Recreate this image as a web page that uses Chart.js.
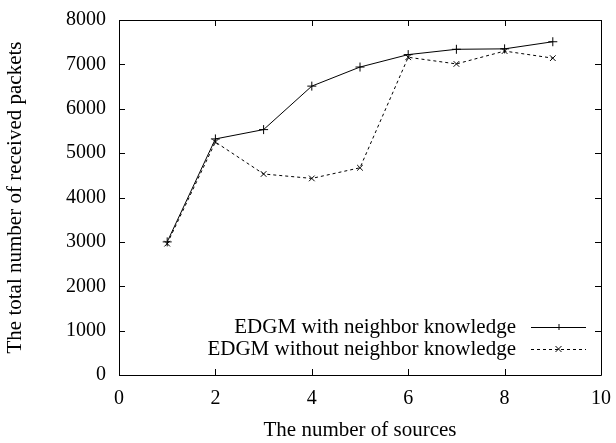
<!DOCTYPE html>
<html>
<head>
<meta charset="utf-8">
<script src="https://cdn.jsdelivr.net/npm/chart.js@4/dist/chart.umd.min.js"></script>
<style>
  html, body { margin: 0; padding: 0; background: #fff; }
  #wrap { width: 616px; height: 443px; }
</style>
</head>
<body>
<div id="wrap"><canvas id="c" width="616" height="443"></canvas></div>
<script>
// Number of sources (x) and total received packets for each EDGM variant
const sources = [1, 2, 3, 4, 5, 6, 7, 8, 9];
const withKnowledge = [3000, 5320, 5530, 6510, 6940, 7220, 7340, 7350, 7510];
const withoutKnowledge = [2960, 5250, 4530, 4430, 4670, 7160, 7010, 7300, 7140];
const seriesLabels = ['EDGM with neighbor knowledge', 'EDGM without neighbor knowledge'];
const xTicks = [0, 2, 4, 6, 8, 10];
const yTicks = [0, 1000, 2000, 3000, 4000, 5000, 6000, 7000, 8000];

const FONT = "'Liberation Serif', 'Times New Roman', serif";

function toPoints(xs, ys) {
  return xs.map((x, i) => ({ x: x, y: ys[i] }));
}

// Frame with inward tick marks on all four sides, plus an in-plot legend
const framePlugin = {
  id: 'frame',
  afterDraw(chart) {
    const ctx = chart.ctx;
    const a = chart.chartArea;
    const xs = chart.scales.x, ys = chart.scales.y;
    const tl = 6;
    ctx.save();
    ctx.strokeStyle = '#000';
    ctx.lineWidth = 1;
    ctx.beginPath();
    ctx.rect(Math.round(a.left) + 0.5, Math.round(a.top) + 0.5,
             Math.round(a.right - a.left), Math.round(a.bottom - a.top));
    ctx.stroke();
    ctx.beginPath();
    xTicks.forEach(v => {
      const px = Math.round(xs.getPixelForValue(v)) + 0.5;
      ctx.moveTo(px, a.bottom); ctx.lineTo(px, a.bottom - tl);
      ctx.moveTo(px, a.top); ctx.lineTo(px, a.top + tl);
    });
    yTicks.forEach(v => {
      const py = Math.round(ys.getPixelForValue(v)) + 0.5;
      ctx.moveTo(a.left, py); ctx.lineTo(a.left + tl, py);
      ctx.moveTo(a.right, py); ctx.lineTo(a.right - tl, py);
    });
    ctx.stroke();

    // legend: right-aligned text followed by a line sample with its marker
    ctx.font = '21px ' + FONT;
    ctx.textAlign = 'right';
    ctx.textBaseline = 'middle';
    const textRight = 516;
    const lineL = 531, lineR = 586;
    const rows = [327, 349];
    chart.data.datasets.forEach((ds, i) => {
      const y = rows[i];
      ctx.fillStyle = '#000';
      ctx.fillText(ds.label, textRight, y);
      ctx.beginPath();
      ctx.setLineDash(ds.borderDash || []);
      ctx.moveTo(lineL, y + 0.5); ctx.lineTo(lineR, y + 0.5);
      ctx.stroke();
      ctx.setLineDash([]);
      const cx = (lineL + lineR) / 2, r = 3;
      ctx.beginPath();
      if (ds.pointStyle === 'cross') {
        ctx.moveTo(cx - r, y + 0.5); ctx.lineTo(cx + r, y + 0.5);
        ctx.moveTo(cx + 0.5, y - r); ctx.lineTo(cx + 0.5, y + r);
      } else {
        ctx.moveTo(cx - r, y - r); ctx.lineTo(cx + r, y + r);
        ctx.moveTo(cx + r, y - r); ctx.lineTo(cx - r, y + r);
      }
      ctx.stroke();
    });
    ctx.restore();
  }
};

new Chart(document.getElementById('c'), {
  type: 'line',
  data: {
    datasets: [
      {
        label: seriesLabels[0],
        data: toPoints(sources, withKnowledge),
        borderColor: '#000',
        borderWidth: 1,
        pointStyle: 'cross',
        pointRadius: 4.5,
        pointBorderColor: '#000',
        pointBorderWidth: 1,
        fill: false,
        tension: 0
      },
      {
        label: seriesLabels[1],
        data: toPoints(sources, withoutKnowledge),
        borderColor: '#000',
        borderWidth: 1,
        borderDash: [3, 3],
        pointStyle: 'crossRot',
        pointRadius: 4,
        pointBorderColor: '#000',
        pointBorderWidth: 1,
        fill: false,
        tension: 0
      }
    ]
  },
  options: {
    responsive: false,
    animation: false,
    devicePixelRatio: 1,
    layout: { padding: { top: 20, right: 15, left: 0, bottom: 0 } },
    plugins: {
      legend: { display: false },
      tooltip: { enabled: false }
    },
    scales: {
      x: {
        type: 'linear',
        min: 0, max: 10,
        afterBuildTicks(scale) { scale.ticks = xTicks.map(v => ({ value: v })); },
        afterFit(scale) {
          scale.height = 68;
          scale.paddingLeft = 0;
          scale.paddingRight = 0;
        },
        grid: { display: false, drawTicks: false },
        border: { display: false },
        ticks: {
          color: '#000', font: { family: FONT, size: 20 }, padding: 12, maxRotation: 0,
          callback: v => String(v)
        },
        title: {
          display: true,
          text: 'The number of sources',
          color: '#000',
          font: { family: FONT, size: 21 },
          padding: { top: 4, bottom: 0 }
        }
      },
      y: {
        type: 'linear',
        min: 0, max: 8000,
        afterBuildTicks(scale) { scale.ticks = yTicks.map(v => ({ value: v })); },
        afterFit(scale) {
          scale.width = 119;
          scale.paddingTop = 0;
          scale.paddingBottom = 0;
        },
        grid: { display: false, drawTicks: false },
        border: { display: false },
        ticks: {
          color: '#000', font: { family: FONT, size: 20 }, padding: 13,
          callback: v => String(v)
        },
        title: {
          display: true,
          text: 'The total number of received packets',
          color: '#000',
          font: { family: FONT, size: 21 },
          padding: { top: 3, bottom: 4 }
        }
      }
    }
  },
  plugins: [framePlugin]
});
</script>
</body>
</html>
